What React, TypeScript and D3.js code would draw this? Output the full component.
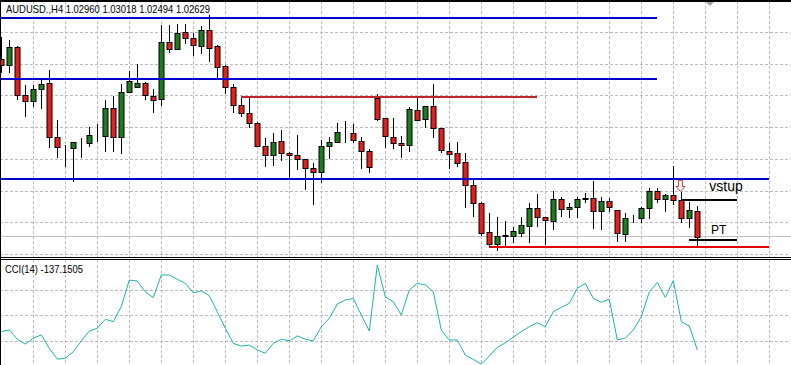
import * as d3 from 'd3';
import { useEffect, useRef } from 'react';

// AUDUSD H4 bars, oldest first
const opens = [
  1.04915, 1.04842, 1.05070, 1.04455, 1.04381, 1.04532, 1.04606, 1.03909, 1.03790, 1.03767,
  1.03829, 1.03832, 1.03932, 1.03917, 1.04283, 1.03909, 1.04497, 1.04549, 1.04606, 1.04446,
  1.04399, 1.05135, 1.05044, 1.05264, 1.05186, 1.05091, 1.05294, 1.05087, 1.04829, 1.04554,
  1.04326, 1.04219, 1.04090, 1.03793, 1.03672, 1.03861, 1.03703, 1.03677, 1.03625, 1.03509,
  1.03455, 1.03788, 1.03845, 1.03971, 1.03961, 1.03865, 1.03732, 1.04420, 1.04154, 1.03909,
  1.03832, 1.03801, 1.04261, 1.04145, 1.04313, 1.04025, 1.03736, 1.03703, 1.03586, 1.03294,
  1.03065, 1.02683, 1.02541, 1.02642, 1.02639, 1.02678, 1.02756, 1.03001, 1.02877, 1.02833,
  1.03113, 1.02984, 1.03006, 1.03119, 1.03122, 1.02958, 1.03087, 1.02971, 1.02670, 1.02874,
  1.02864, 1.02993, 1.03216, 1.03109, 1.03165, 1.03100, 1.02864, 1.02960,
];
const highs = [
  1.05203, 1.05164, 1.05087, 1.04584, 1.04584, 1.04648, 1.04777, 1.04132, 1.03810, 1.03852,
  1.03896, 1.04046, 1.04081, 1.04390, 1.04442, 1.04597, 1.04764, 1.04855, 1.04626, 1.04532,
  1.05352, 1.05364, 1.05367, 1.05367, 1.05251, 1.05349, 1.05487, 1.05100, 1.04842, 1.04597,
  1.04420, 1.04412, 1.04106, 1.03896, 1.03961, 1.04003, 1.03715, 1.03939, 1.03635, 1.03571,
  1.03868, 1.03909, 1.04094, 1.04119, 1.04081, 1.03917, 1.03754, 1.04468, 1.04158, 1.04154,
  1.03926, 1.04296, 1.04412, 1.04319, 1.04597, 1.04035, 1.03839, 1.03852, 1.03703, 1.03367,
  1.03074, 1.02928, 1.02885, 1.02829, 1.02756, 1.02885, 1.03057, 1.03174, 1.02885, 1.03220,
  1.03143, 1.03057, 1.03143, 1.03186, 1.03345, 1.03143, 1.03122, 1.02977, 1.02928, 1.02906,
  1.03014, 1.03251, 1.03259, 1.03171, 1.03543, 1.03207, 1.03078, 1.03018,
];
const lows = [
  1.04735, 1.04735, 1.04390, 1.04175, 1.04304, 1.04270, 1.03767, 1.03638, 1.03530, 1.03336,
  1.03638, 1.03788, 1.03852, 1.03723, 1.03723, 1.03694, 1.04477, 1.04541, 1.04390, 1.04219,
  1.04313, 1.04993, 1.05035, 1.05109, 1.04958, 1.04980, 1.04884, 1.04678, 1.04468, 1.04226,
  1.04167, 1.04033, 1.03780, 1.03530, 1.03539, 1.03607, 1.03380, 1.03487, 1.03229, 1.03035,
  1.03323, 1.03629, 1.03832, 1.03839, 1.03839, 1.03494, 1.03452, 1.04123, 1.03775, 1.03758,
  1.03638, 1.03723, 1.04119, 1.04025, 1.03904, 1.03703, 1.03496, 1.03530, 1.03001, 1.02885,
  1.02639, 1.02497, 1.02446, 1.02497, 1.02541, 1.02626, 1.02541, 1.02756, 1.02519, 1.02713,
  1.02885, 1.02864, 1.02872, 1.03057, 1.02726, 1.02713, 1.02949, 1.02562, 1.02554, 1.02799,
  1.02807, 1.02851, 1.03065, 1.02949, 1.03035, 1.02799, 1.02743, 1.02494,
];
const closes = [
  1.04842, 1.05070, 1.04455, 1.04381, 1.04532, 1.04597, 1.03909, 1.03780, 1.03784, 1.03845,
  1.03835, 1.03939, 1.03926, 1.04283, 1.03909, 1.04490, 1.04635, 1.04606, 1.04446, 1.04399,
  1.05135, 1.05044, 1.05251, 1.05186, 1.05091, 1.05294, 1.05065, 1.04820, 1.04554, 1.04326,
  1.04219, 1.04090, 1.03788, 1.03672, 1.03845, 1.03703, 1.03672, 1.03625, 1.03509, 1.03455,
  1.03797, 1.03845, 1.03974, 1.03977, 1.03865, 1.03736, 1.03530, 1.04154, 1.03917, 1.03832,
  1.03801, 1.04270, 1.04132, 1.04313, 1.04025, 1.03736, 1.03703, 1.03574, 1.03285, 1.03057,
  1.02678, 1.02532, 1.02639, 1.02635, 1.02700, 1.02777, 1.02993, 1.02885, 1.02833, 1.03113,
  1.02984, 1.03014, 1.03113, 1.03126, 1.02958, 1.03087, 1.03014, 1.02670, 1.02872, 1.02868,
  1.02993, 1.03216, 1.03109, 1.03165, 1.03100, 1.02864, 1.02971, 1.02629,
];

// CCI(14), one value per bar
const cci = [
  -65, -59, -95, -114, -91, -78, -131, -173, -170, -144,
  -101, -63, -52, -17, -26, 33, 137, 133, 91, 68,
  157, 157, 140, 124, 87, 94, 76, 13, -52, -111,
  -122, -118, -137, -150, -111, -95, -101, -82, -95, -102,
  -46, -13, 43, 59, 65, 0, -63, 196, 72, 52,
  0, 98, 124, 118, 91, -59, -98, -98, -157, -174,
  -193, -161, -127, -109, -87, -65, -46, -30, -46, 13,
  30, 46, 105, 124, 65, 50, 62, -98, -91, -59,
  -7, 91, 128, 69, 135, -26, -43, -137.15,
];

const priceGrid = [1.0240, 1.0281, 1.0322, 1.0363, 1.0404, 1.0445, 1.0486, 1.0527];
const cciGrid = [100, 0, -100];
const bidPrice = 1.02629;

// drawn horizontal objects: price, first bar, last bar
const hLines = [
  { price: 1.05448, from: -1, to: 82, color: '#0000cd' },
  { price: 1.04661, from: -1, to: 82, color: '#0000cd' },
  { price: 1.03371, from: -1, to: 96, color: '#0000cd' },
  { price: 1.04423, from: 30, to: 67, color: '#c0262c' },
  { price: 1.02494, from: 61, to: 96, color: '#e00000' },
  { price: 1.03100, from: 85, to: 92, color: '#000000' },
  { price: 1.02588, from: 86, to: 92, color: '#000000' },
];

const W = 791;
const H = 365;

export default function App() {
  const ref = useRef<SVGSVGElement>(null);

  useEffect(() => {
    const svg = d3.select(ref.current);
    svg.selectAll('*').remove();

    const font = '"Liberation Sans", Arial, sans-serif';
    const mainTop = 1;
    const mainBottom = 257;
    const cciTop = 260;

    const x = d3.scaleLinear().domain([0, 87]).range([1.3, 697.3]);
    const y = d3.scaleLinear().domain([1.02364, 1.05668]).range([mainBottom, mainTop]);
    const yc = d3.scaleLinear().domain([-100, 100]).range([340.5, 289.5]);

    svg.append('rect').attr('width', W).attr('height', H).attr('fill', '#fff');

    const defs = svg.append('defs');
    defs.append('clipPath').attr('id', 'clip-main')
      .append('rect').attr('x', 0).attr('y', mainTop).attr('width', W).attr('height', mainBottom - mainTop);
    defs.append('clipPath').attr('id', 'clip-cci')
      .append('rect').attr('x', 0).attr('y', cciTop).attr('width', W).attr('height', H - cciTop);

    const gridX = d3.range(4, 100, 4);
    const gridStyle = (sel: any) => sel
      .attr('stroke', '#bdbdbd')
      .attr('stroke-width', 1)
      .attr('stroke-dasharray', '3,2')
      .attr('shape-rendering', 'crispEdges');

    // ---- main panel
    const main = svg.append('g').attr('clip-path', 'url(#clip-main)');

    main.selectAll('.vgrid').data(gridX).enter().append('line')
      .attr('x1', d => Math.round(x(d)) + 0.5).attr('x2', d => Math.round(x(d)) + 0.5)
      .attr('y1', mainTop).attr('y2', mainBottom)
      .call(gridStyle);
    main.selectAll('.hgrid').data(priceGrid).enter().append('line')
      .attr('x1', 0).attr('x2', W)
      .attr('y1', d => Math.round(y(d)) + 0.5).attr('y2', d => Math.round(y(d)) + 0.5)
      .call(gridStyle);

    // bid line
    main.append('line')
      .attr('x1', 0).attr('x2', W)
      .attr('y1', Math.round(y(bidPrice)) + 0.5).attr('y2', Math.round(y(bidPrice)) + 0.5)
      .attr('stroke', '#c0c0c0').attr('shape-rendering', 'crispEdges');

    const bars = d3.range(opens.length).map(i => ({
      i, o: opens[i], h: highs[i], l: lows[i], c: closes[i],
    }));

    const candle = main.selectAll('.candle').data(bars).enter().append('g');
    candle.append('line')
      .attr('x1', d => Math.round(x(d.i)) + 0.5).attr('x2', d => Math.round(x(d.i)) + 0.5)
      .attr('y1', d => Math.round(y(d.h))).attr('y2', d => Math.round(y(d.l)))
      .attr('stroke', '#000').attr('stroke-width', 1)
      .attr('shape-rendering', 'crispEdges');
    candle.append('rect')
      .attr('x', d => Math.round(x(d.i)) - 2)
      .attr('y', d => Math.round(y(Math.max(d.o, d.c))) + 0.5)
      .attr('width', 5)
      .attr('height', d => Math.max(0, Math.round(Math.abs(y(d.o) - y(d.c)))))
      .attr('fill', d => (d.c > d.o ? '#1e7b1e' : '#e3201c'))
      .attr('stroke', '#000').attr('stroke-width', 1);

    main.selectAll('.hline').data(hLines).enter().append('line')
      .attr('x1', d => (d.from < 0 ? 0 : Math.round(x(d.from))))
      .attr('x2', d => Math.round(x(d.to)))
      .attr('y1', d => Math.round(y(d.price))).attr('y2', d => Math.round(y(d.price)))
      .attr('stroke', d => d.color).attr('stroke-width', 2)
      .attr('shape-rendering', 'crispEdges');

    // sell arrow
    const ax = Math.round(x(84.8)) + 0.5;
    const ay = Math.round(y(1.03358)) + 0.5;
    main.append('path')
      .attr('d', `M${ax - 2},${ay} L${ax + 2},${ay} L${ax + 2},${ay + 6} L${ax + 4.5},${ay + 6} L${ax},${ay + 11} L${ax - 4.5},${ay + 6} L${ax - 2},${ay + 6} Z`)
      .attr('fill', '#fff').attr('stroke', '#e8403a').attr('stroke-width', 1);

    main.append('text').attr('x', x(88.5)).attr('y', y(1.0321))
      .attr('font-family', font).attr('font-size', 14).text('vstup');
    main.append('text').attr('x', x(88.7)).attr('y', y(1.02664))
      .attr('font-family', font).attr('font-size', 12).text('PT');

    // chart shift marker
    main.append('path').attr('d', 'M705,1 L715,1 L710,6 Z').attr('fill', '#a0a0a0');

    main.append('text').attr('x', 6).attr('y', 13)
      .attr('font-family', font).attr('font-size', 10.5)
      .attr('textLength', 204).attr('lengthAdjust', 'spacingAndGlyphs')
      .text('AUDUSD.,H4  1.02960 1.03018 1.02494 1.02629');

    // ---- CCI panel
    const sub = svg.append('g').attr('clip-path', 'url(#clip-cci)');
    sub.selectAll('.vgrid').data(gridX).enter().append('line')
      .attr('x1', d => Math.round(x(d)) + 0.5).attr('x2', d => Math.round(x(d)) + 0.5)
      .attr('y1', cciTop).attr('y2', H)
      .call(gridStyle);
    sub.selectAll('.hgrid').data(cciGrid).enter().append('line')
      .attr('x1', 0).attr('x2', W)
      .attr('y1', d => Math.round(yc(d)) + 0.5).attr('y2', d => Math.round(yc(d)) + 0.5)
      .call(gridStyle);

    const line = d3.line<number>().x((_, i) => x(i)).y(d => yc(d));
    sub.append('path').datum(cci)
      .attr('d', line)
      .attr('fill', 'none').attr('stroke', '#20b2aa').attr('stroke-width', 1);

    sub.append('text').attr('x', 5).attr('y', 273)
      .attr('font-family', font).attr('font-size', 10)
      .attr('textLength', 78).attr('lengthAdjust', 'spacingAndGlyphs')
      .text('CCI(14) -137.1505');

    // ---- frames
    const frame = svg.append('g').attr('stroke', '#000').attr('shape-rendering', 'crispEdges');
    frame.append('line').attr('x1', 0).attr('x2', W).attr('y1', 0.5).attr('y2', 0.5).attr('stroke-width', 2);
    frame.append('line').attr('x1', 0.5).attr('x2', 0.5).attr('y1', 0).attr('y2', H);
    frame.append('line').attr('x1', 0).attr('x2', W).attr('y1', mainBottom + 0.5).attr('y2', mainBottom + 0.5);
    frame.append('line').attr('x1', 0).attr('x2', W).attr('y1', cciTop - 0.5).attr('y2', cciTop - 0.5);

    return () => {
      svg.selectAll('*').remove();
    };
  }, []);

  return (
    <div style={{ position: 'absolute', left: 0, top: 0 }}>
      <svg ref={ref} width={W} height={H} style={{ display: 'block' }}></svg>
    </div>
  );
}
